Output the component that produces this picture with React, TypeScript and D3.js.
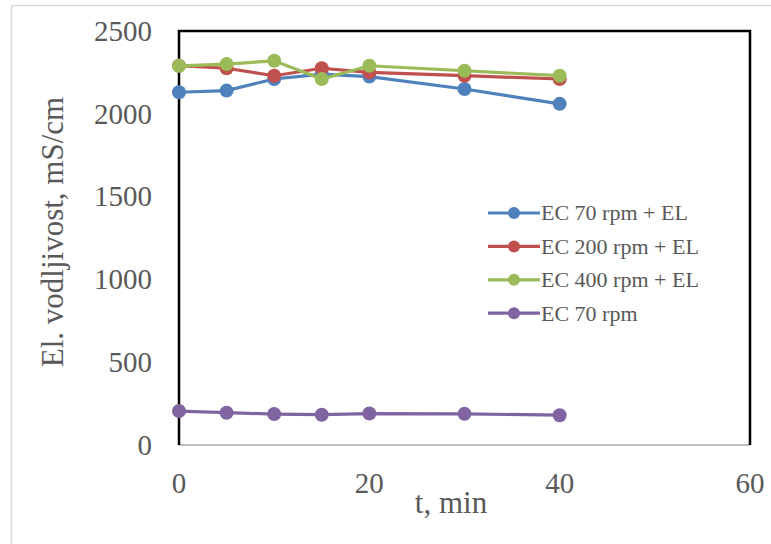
import React from "react";
import * as d3 from "d3";

const times = [0, 5, 10, 15, 20, 30, 40];
const seriesNames = ["EC 70 rpm + EL", "EC 200 rpm + EL", "EC 400 rpm + EL", "EC 70 rpm"];
const blueValues = [2130, 2140, 2210, 2240, 2225, 2150, 2060];
const redValues = [2290, 2275, 2230, 2275, 2250, 2230, 2210];
const greenValues = [2290, 2300, 2320, 2210, 2290, 2260, 2230];
const purpleValues = [205, 195, 187, 183, 190, 188, 180];
const seriesColors = ["#4F81BD", "#C0504D", "#9BBB59", "#8064A2"];
const xTicks = [0, 20, 40, 60];
const yTicks = [0, 500, 1000, 1500, 2000, 2500];
const xTitle = "t, min";
const yTitle = "El. vodljivost, mS/cm";

const W = 771;
const H = 544;
const plot = { left: 179, right: 750, top: 31, bottom: 445 };
const FONT = "'Liberation Serif', 'Times New Roman', serif";
const TEXT = "#595959";

export default function App() {
  const x = d3.scaleLinear().domain([0, 60]).range([plot.left, plot.right]);
  const y = d3.scaleLinear().domain([0, 2500]).range([plot.bottom, plot.top]);
  const allSeries = [blueValues, redValues, greenValues, purpleValues];
  const line = d3
    .line<[number, number]>()
    .x((d) => x(d[0]))
    .y((d) => y(d[1]));

  const legendX0 = 488;
  const legendX1 = 540;
  const legendRowY = (i: number) => 213 + i * 33.4;

  return (
    <svg
      width={W}
      height={H}
      style={{ position: "absolute", left: 0, top: 0, background: "#fff" }}
    >
      <rect x={11.5} y={5.5} width={820} height={620} fill="#fff" stroke="#d9d9d9" strokeWidth={1.5} />
      {/* plot frame */}
      <line x1={plot.left} x2={plot.right} y1={plot.bottom} y2={plot.bottom} stroke="#bfbfbf" strokeWidth={2} />
      <path
        d={`M${plot.left},${plot.bottom}V${plot.top}H${plot.right}V${plot.bottom}`}
        fill="none"
        stroke="#000"
        strokeWidth={2.5}
      />
      {/* y ticks */}
      {yTicks.map((t) => (
        <text
          key={"y" + t}
          x={152}
          y={y(t)}
          dy="0.34em"
          textAnchor="end"
          fontFamily={FONT}
          fontSize={29}
          fill={TEXT}
        >
          {t}
        </text>
      ))}
      {/* x ticks */}
      {xTicks.map((t) => (
        <text
          key={"x" + t}
          x={x(t)}
          y={493}
          textAnchor="middle"
          fontFamily={FONT}
          fontSize={29}
          fill={TEXT}
        >
          {t}
        </text>
      ))}
      <text x={451} y={513} textAnchor="middle" fontFamily={FONT} fontSize={31} fill={TEXT}>
        {xTitle}
      </text>
      <text
        transform={`translate(63,232) rotate(-90)`}
        textAnchor="middle"
        fontFamily={FONT}
        fontSize={31}
        fill={TEXT}
      >
        {yTitle}
      </text>
      {/* series */}
      {allSeries.map((vals, si) => {
        const pts: [number, number][] = times.map((t, i) => [t, vals[i]]);
        return (
          <g key={"s" + si}>
            <path d={line(pts) || ""} fill="none" stroke={seriesColors[si]} strokeWidth={3.2} />
            {pts.map((p, i) => (
              <circle key={i} cx={x(p[0])} cy={y(p[1])} r={7} fill={seriesColors[si]} />
            ))}
          </g>
        );
      })}
      {/* legend */}
      {seriesNames.map((name, i) => (
        <g key={"l" + i}>
          <line
            x1={legendX0}
            x2={legendX1}
            y1={legendRowY(i)}
            y2={legendRowY(i)}
            stroke={seriesColors[i]}
            strokeWidth={3.2}
          />
          <circle cx={(legendX0 + legendX1) / 2} cy={legendRowY(i)} r={6} fill={seriesColors[i]} />
          <text
            x={legendX1 + 1}
            y={legendRowY(i)}
            dy="0.34em"
            fontFamily={FONT}
            fontSize={22}
            fill={TEXT}
          >
            {name}
          </text>
        </g>
      ))}
    </svg>
  );
}
